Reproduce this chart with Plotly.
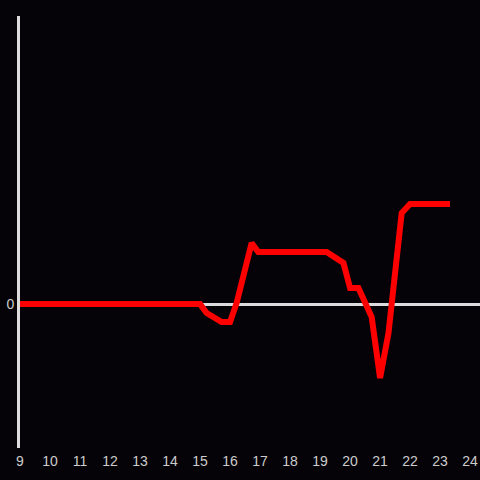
import plotly.graph_objects as go

# hours vs. value
hours = [9.0, 15.0, 15.22, 15.72, 16.0, 16.22, 16.72, 16.94, 19.22, 19.78,
         20.0, 20.28, 20.72, 21.0, 21.28, 21.72, 22.0, 23.33]
values = [0, 0, -9, -18, -18, 1, 61, 52, 52, 41,
          16, 16, -13, -74, -29, 91, 100, 100]
x_ticks = list(range(9, 25))

BG = '#050308'
AXIS = '#dcdcdc'

fig = go.Figure()
fig.add_trace(go.Scatter(
    x=hours, y=values, mode='lines',
    line=dict(color='#ff0000', width=6),
    showlegend=False, hoverinfo='skip'
))

fig.update_xaxes(
    range=[9, 24.33], tickvals=x_ticks, showgrid=False, zeroline=False,
    showline=False, ticks='', ticklabelstandoff=3,
    tickfont=dict(color='#cccccc', size=14)
)
fig.update_yaxes(
    range=[-144, 288], tickvals=[0], showgrid=False,
    zeroline=True, zerolinecolor=AXIS, zerolinewidth=3,
    showline=True, linecolor=AXIS, linewidth=3, ticks='',
    tickfont=dict(color='#cccccc', size=14)
)
fig.update_layout(
    width=480, height=480,
    paper_bgcolor=BG, plot_bgcolor=BG,
    font=dict(family='Liberation Sans, Arial, sans-serif'),
    margin=dict(l=20, r=0, t=16, b=32),
)

# drop the page margin so the figure sits flush in the window
fig.write_html(
    "out.html",
    config={'displayModeBar': False},
    post_script="document.body.style.margin='0';document.body.style.background='%s';" % BG,
)
